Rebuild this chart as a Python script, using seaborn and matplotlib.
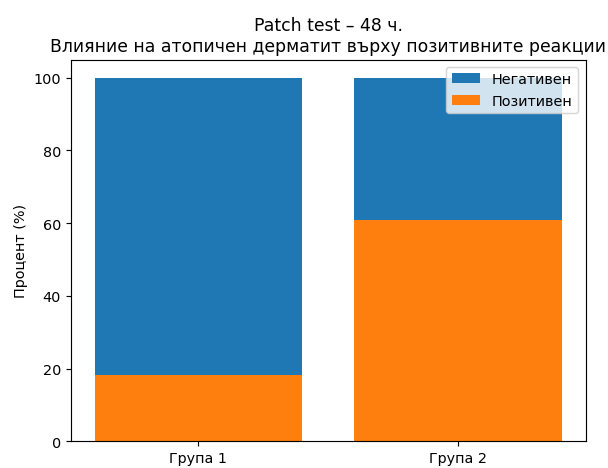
import matplotlib
matplotlib.use('Agg')
import matplotlib.pyplot as plt
import seaborn as sns

# Data (percent of patients)
groups = ['Група 1', 'Група 2']
positive = [18.3, 60.8]
negative = [100 - p for p in positive]
totals = [p + n for p, n in zip(positive, negative)]

dpi = 103.4
fig, ax = plt.subplots(figsize=(608 / dpi, 469 / dpi), dpi=dpi)
fig.subplots_adjust(left=0.117, right=0.963, top=0.871, bottom=0.057)

# stacked bars: full height in blue, positive part drawn over it in orange
sns.barplot(x=groups, y=totals, color='#1f77b4', saturation=1, width=0.8,
            label='Негативен', ax=ax)
sns.barplot(x=groups, y=positive, color='#ff7f0e', saturation=1, width=0.8,
            label='Позитивен', ax=ax)

ax.set_xlim(-0.49, 1.49)
ax.set_ylim(0, 105)
ax.set_ylabel('Процент (%)')
ax.set_xlabel('')
ax.set_title('Patch test – 48 ч.\nВлияние на атопичен дерматит върху позитивните реакции')
ax.legend(loc='upper right')

plt.savefig('out.png', dpi=dpi)
